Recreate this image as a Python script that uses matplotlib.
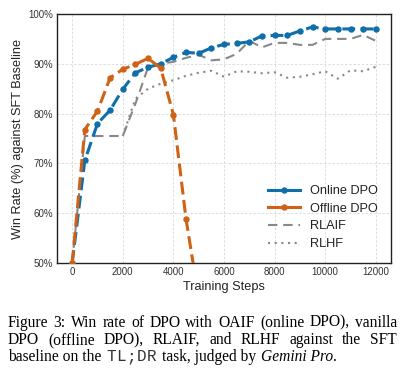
import matplotlib
matplotlib.use("Agg")
import matplotlib.pyplot as plt
from matplotlib.lines import Line2D
from matplotlib.ticker import FuncFormatter

plt.rcParams['font.family'] = ['Liberation Sans', 'DejaVu Sans']

steps = [0, 500, 1000, 1500, 2000, 2500, 3000, 3500, 4000, 4500, 5000, 5500, 6000,
         6500, 7000, 7500, 8000, 8500, 9000, 9500, 10000, 10500, 11000, 11500, 12000]
online_dpo = [50, 70.6, 78.0, 80.7, 84.9, 88.2, 89.3, 90.0, 91.3, 92.3, 92.1, 93.2, 93.9,
              94.1, 94.4, 95.6, 95.7, 95.7, 96.6, 97.4, 97.0, 97.0, 97.0, 97.0, 97.0]
offline_steps = [0, 500, 1000, 1500, 2000, 2500, 3000, 3500, 4000, 4500, 5000]
offline_dpo = [50, 76.8, 80.5, 87.2, 88.9, 89.9, 91.1, 89.1, 79.8, 58.8, 43.0]
rlaif = [50, 75.5, 75.5, 75.5, 75.5, 82.0, 89.3, 90.0, 90.4, 91.2, 91.8, 90.7, 90.9,
         92.0, 94.6, 93.3, 94.2, 94.2, 93.8, 93.8, 95.0, 95.0, 95.0, 95.8, 94.6]
rlhf_steps = [2000, 2500, 3000, 3500, 4000, 4500, 5000, 5500, 6000, 6500, 7000, 7500,
              8000, 8500, 9000, 9500, 10000, 10500, 11000, 11500, 12000]
rlhf = [75.5, 83.0, 85.0, 86.0, 86.7, 87.6, 88.2, 88.6, 87.4, 88.5, 88.4, 88.1,
        88.3, 87.2, 87.4, 87.9, 88.5, 87.0, 88.7, 88.5, 89.4]
series_labels = ["Online DPO", "Offline DPO", "RLAIF", "RLHF"]
x_ticks = [0, 2000, 4000, 6000, 8000, 10000, 12000]
y_ticks = [50, 60, 70, 80, 90, 100]

BLUE = '#0f6fab'
ORANGE = '#cf6214'
GRAY = '#888888'

fig = plt.figure(figsize=(4.05, 3.81), dpi=100)
ax = fig.add_axes([57/405, 1-263/381, (391-57)/405, (263-14)/381])

ax.plot(steps, rlaif, color=GRAY, lw=1.5, ls=(0, (4.5, 2.8)), zorder=2)
ax.plot(rlhf_steps, rlhf, color=GRAY, lw=1.5, ls=(0, (1, 2.2)), zorder=2)
ax.plot(steps, online_dpo, color=BLUE, lw=2.2, ls=(0, (4.2, 1.8)), marker='o', ms=3.6, zorder=3)
ax.plot(offline_steps, offline_dpo, color=ORANGE, lw=2.2, ls=(0, (4.2, 1.8)), marker='o', ms=3.6, zorder=4)

ax.set_xlim(-600, 12600)
ax.set_ylim(50, 100)
ax.set_xticks(x_ticks)
ax.set_yticks(y_ticks)
ax.yaxis.set_major_formatter(FuncFormatter(lambda v, p: f"{int(v)}%"))
ax.tick_params(axis='both', length=0, labelsize=7, colors='#333333', pad=3)
ax.grid(True, color='#d8d8d8', lw=0.6, ls=(0, (3, 2)))
ax.set_axisbelow(True)
for s in ax.spines.values():
    s.set_color('#222222')
    s.set_linewidth(1.0)
ax.set_xlabel("Training Steps", fontsize=9.2, color='#222222', labelpad=3)
ax.set_ylabel("Win Rate (%) against SFT Baseline", fontsize=9.2, color='#222222', labelpad=3)

handles = [
    Line2D([], [], color=BLUE, lw=2.2, marker='o', ms=3.6),
    Line2D([], [], color=ORANGE, lw=2.2, marker='o', ms=3.6),
    Line2D([], [], color=GRAY, lw=1.5, ls=(0, (4.5, 2.8))),
    Line2D([], [], color=GRAY, lw=1.5, ls=(0, (1, 2.2))),
]
ax.legend(handles, series_labels, loc='lower right', frameon=False, fontsize=9.2,
          handlelength=2.5, handletextpad=0.8, labelspacing=0.45,
          borderaxespad=0.6, labelcolor='#222222')

# ---- caption (justified) ----
renderer = fig.canvas.get_renderer()
W = 405.0
H = 381.0
SERIF = 'Liberation Serif'
CFS = 11.2

def width_px(txt, fs=CFS, **kw):
    t = fig.text(0, 0, txt, fontsize=fs, **kw)
    w = t.get_window_extent(renderer).width
    t.remove()
    return w

def place_justified(words, y_base, x0=8.0, x1=397.0):
    ws = [width_px(w, family=SERIF) for w in words]
    gap = (x1 - x0 - sum(ws)) / (len(words) - 1)
    x = x0
    for w, wd in zip(words, ws):
        fig.text(x / W, 1 - y_base / H, w, fontsize=CFS, family=SERIF, va='baseline', ha='left')
        x += wd + gap

line1 = "Figure 3: Win rate of DPO with OAIF (online DPO), vanilla".split()
line2 = "DPO (offline DPO), RLAIF, and RLHF against the SFT".split()
place_justified(line1, 326.7)
place_justified(line2, 344.0)

y3 = 1 - 361.3 / H
space_w = width_px("a b", family=SERIF) - width_px("ab", family=SERIF)
fig.text(8 / W, y3, "baseline on the", fontsize=CFS, family=SERIF, va='baseline')
pitch = 10.2
x = 106.0
for ch in "TL;DR":
    fig.text((x + pitch / 2) / W, y3, ch, fontsize=11.5, family='Liberation Mono',
             va='baseline', ha='center', color='#333333')
    x += pitch
x = 162.0
fig.text(x / W, y3, "task, judged by", fontsize=CFS, family=SERIF, va='baseline')
x += width_px("task, judged by", family=SERIF) + space_w + 1.0
fig.text(x / W, y3, "Gemini Pro", fontsize=CFS, family=SERIF, style='italic', va='baseline')
x += width_px("Gemini Pro", family=SERIF, style='italic')
fig.text(x / W, y3, ".", fontsize=CFS, family=SERIF, va='baseline')

fig.savefig("out.png", dpi=100)
